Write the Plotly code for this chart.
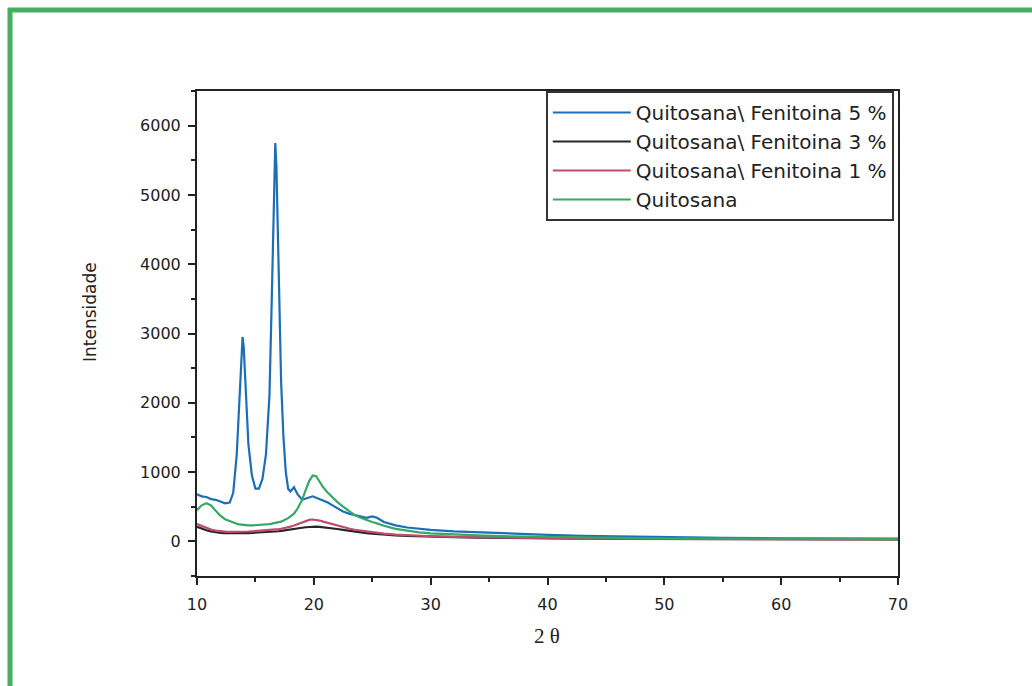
import plotly.graph_objects as go

# 2-theta sampling positions (degrees)
two_theta = [10.0, 10.4, 10.8, 11.2, 11.6, 12.0, 12.4, 12.8, 13.1, 13.4, 13.6, 13.8, 13.9, 14.0,
             14.2, 14.4, 14.7, 15.0, 15.3, 15.6, 15.9, 16.2, 16.4, 16.6, 16.7, 16.8, 17.0, 17.2,
             17.4, 17.6, 17.8, 18.0, 18.3, 18.6, 19.0, 19.3, 19.6, 19.9, 20.2, 20.5, 20.8, 21.2,
             21.6, 22.0, 22.5, 23.0, 23.5, 24.0, 24.5, 25.0, 25.4, 26.0, 27.0, 28.0, 29.0, 30.0,
             32, 34, 36, 38, 40, 43, 46, 50, 55, 60, 65, 70]

fen5 = [680, 650, 640, 610, 600, 570, 550, 560, 700, 1250, 2000, 2800, 2950, 2800,
        2000, 1400, 950, 760, 760, 900, 1250, 2100, 3500, 5300, 5750, 5400, 3800, 2300,
        1500, 1000, 760, 720, 780, 680, 600, 620, 640, 650, 630, 610, 590, 560,
        520, 480, 430, 400, 380, 350, 340, 360, 340, 280, 230, 200, 180, 165,
        145, 130, 115, 105, 95, 80, 70, 60, 50, 45, 40, 38]

fen3 = [210, 180, 160, 145, 130, 122, 118, 116, 115, 115, 115, 116, 116, 117,
        118, 119, 121, 123, 126, 129, 132, 135, 138, 140, 142, 143, 146, 150,
        154, 158, 163, 168, 176, 185, 196, 204, 210, 213, 213, 210, 205, 197,
        188, 178, 165, 152, 140, 130, 120, 112, 106, 98, 87, 79, 72, 67,
        60, 54, 49, 46, 43, 39, 36, 33, 31, 29, 28, 27]

fen1 = [250, 220, 190, 170, 155, 145, 140, 138, 137, 137, 138, 139, 140, 140,
        141, 142, 145, 148, 152, 155, 158, 162, 165, 168, 170, 172, 176, 182,
        188, 195, 203, 212, 228, 248, 275, 295, 310, 315, 312, 300, 285, 265,
        245, 225, 205, 185, 168, 155, 142, 130, 122, 112, 98, 88, 80, 74,
        65, 58, 52, 48, 45, 40, 37, 34, 32, 30, 29, 28]

quitosana = [450, 520, 550, 520, 440, 370, 320, 290, 270, 255, 245, 240, 238, 235,
             232, 230, 230, 232, 235, 240, 245, 250, 255, 260, 262, 265, 275, 285,
             300, 315, 335, 360, 400, 470, 600, 740, 870, 950, 940, 860, 780, 700,
             630, 570, 500, 440, 380, 340, 305, 280, 260, 225, 180, 150, 130, 115,
             95, 85, 75, 68, 62, 55, 50, 45, 40, 37, 35, 33]

series_names = ["Quitosana\\ Fenitoina 5 %", "Quitosana\\ Fenitoina 3 %",
                "Quitosana\\ Fenitoina 1 %", "Quitosana"]
series_values = [fen5, fen3, fen1, quitosana]
series_colors = ["#1b6fb6", "#262626", "#c24a6c", "#35a865"]

x_ticks = [10, 20, 30, 40, 50, 60, 70]
y_ticks = [0, 1000, 2000, 3000, 4000, 5000, 6000]

fig = go.Figure()
for name, vals, col in zip(series_names, series_values, series_colors):
    fig.add_trace(go.Scatter(x=two_theta, y=vals, mode="lines", name=name,
                             line=dict(color=col, width=2.2)))

W, H = 1032, 686
ml, mr, mt, mb = 197, 134, 91, 110
pw, ph = W - ml - mr, H - mt - mb

def px(xp):
    return (xp - ml) / pw

def py(yp):
    return (H - mb - yp) / ph

SANS = "DejaVu Sans, Liberation Sans, Arial, sans-serif"

fig.update_layout(
    width=W, height=H,
    margin=dict(l=ml, r=mr, t=mt, b=mb),
    paper_bgcolor="white", plot_bgcolor="white",
    font=dict(family=SANS, color="#222"),
    showlegend=True,
    legend=dict(x=0.994, xanchor="right", y=1, yanchor="top",
                bgcolor="white", bordercolor="#333", borderwidth=2,
                itemwidth=78,
                font=dict(family=SANS, size=20, color="#222"), tracegroupgap=0),
    shapes=[
        dict(type="line", xref="paper", yref="paper", x0=px(10), x1=px(10),
             y0=py(8), y1=py(H), line=dict(color="#46ae5e", width=5)),
        dict(type="line", xref="paper", yref="paper", x0=px(8), x1=px(W),
             y0=py(10), y1=py(10), line=dict(color="#46ae5e", width=5)),
    ],
    annotations=[
        dict(text="Intensidade", xref="paper", yref="paper", x=px(90), y=py(312),
             xanchor="center", yanchor="middle", textangle=-90, showarrow=False,
             font=dict(family=SANS, size=17, color="#222")),
        dict(text="2 θ", xref="paper", yref="paper", x=px(547), y=py(636),
             xanchor="center", yanchor="middle", showarrow=False,
             font=dict(family="Liberation Serif, Times New Roman, serif", size=21, color="#222")),
    ],
)

fig.update_xaxes(range=[10, 70], tickmode="array", tickvals=x_ticks,
                 ticks="outside", ticklen=7, tickwidth=1.5, tickcolor="#222",
                 ticklabelstandoff=6,
                 minor=dict(tickvals=[15, 25, 35, 45, 55, 65], ticks="outside", ticklen=4,
                            tickwidth=1.5, tickcolor="#222"),
                 showline=True, linecolor="#222", linewidth=2, mirror=True,
                 showgrid=False, zeroline=False,
                 tickfont=dict(family=SANS, size=16, color="#222"))

fig.update_yaxes(range=[-500, 6500], tickmode="array", tickvals=y_ticks,
                 ticks="outside", ticklen=7, tickwidth=1.5, tickcolor="#222",
                 ticklabelstandoff=4,
                 minor=dict(tickvals=[-500, 500, 1500, 2500, 3500, 4500, 5500, 6500],
                            ticks="outside", ticklen=4, tickwidth=1.5, tickcolor="#222"),
                 showline=True, linecolor="#222", linewidth=2, mirror=True,
                 showgrid=False, zeroline=False,
                 tickfont=dict(family=SANS, size=16, color="#222"))

fig.write_html("out.html")
